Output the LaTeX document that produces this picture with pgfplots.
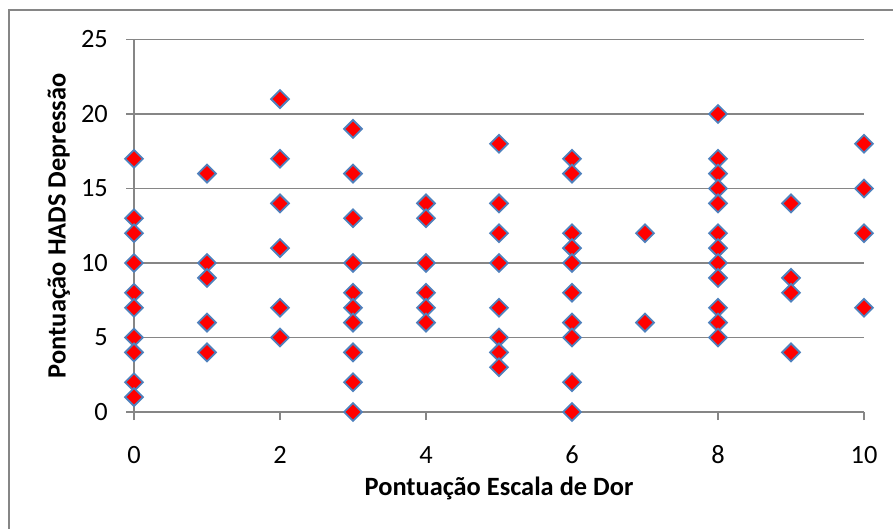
\documentclass[border=0pt]{standalone}
\usepackage{pgfplots}
\pgfplotsset{compat=1.18}
\usepackage{fontspec}
\setmainfont{Carlito}
\definecolor{gridgray}{RGB}{134,134,134}
\definecolor{mkedge}{RGB}{79,129,189}
\begin{document}
\begin{tikzpicture}
\path[use as bounding box] (0,0) rectangle (893bp,529bp);
\draw[gridgray, line width=1.5bp] (9bp,0) -- (9bp,519bp) -- (893bp,519bp);
\begin{axis}[
  at={(134bp,117bp)}, anchor=south west,
  scale only axis, width=730bp, height=372.5bp,
  xmin=0, xmax=10, ymin=0, ymax=25,
  xtick={0,2,4,6,8,10}, ytick={0,5,10,15,20,25},
  axis x line*=bottom, axis y line*=left,
  axis line style={gridgray, line width=1.5bp},
  ymajorgrids, major grid style={gridgray, line width=1.5bp},
  tick align=outside, major tick length=8bp,
  tick style={gridgray, line width=1.5bp},
  /pgf/number format/assume math mode=true,
  ticklabel style={font=\fontsize{26.5}{30}\selectfont, inner sep=0pt},
  xticklabel style={anchor=base, yshift=-43bp},
  yticklabel style={anchor=east, xshift=-18bp},
  xlabel={\textbf{Pontuação Escala de Dor}},
  ylabel={\textbf{Pontuação HADS Depressão}},
  label style={font=\fontsize{26.5}{30}\selectfont, inner sep=0pt},
  xlabel style={at={(axis description cs:0.5,0)}, anchor=base, yshift=-83bp},
  ylabel style={at={(axis description cs:-0.0938,0.5)}, anchor=base},
  clip=false,
]
\addplot[only marks, mark=square*, mark size=6.3bp,
  mark options={fill=red, draw=mkedge, line width=1.8bp, rotate=45}]
coordinates {
(0,17)(0,13)(0,12)(0,10)(0,8)(0,7)(0,5)(0,4)(0,2)(0,1)
(1,16)(1,10)(1,9)(1,6)(1,4)
(2,21)(2,17)(2,14)(2,11)(2,7)(2,5)
(3,19)(3,16)(3,13)(3,10)(3,8)(3,7)(3,6)(3,4)(3,2)(3,0)
(4,14)(4,13)(4,10)(4,8)(4,7)(4,6)
(5,18)(5,14)(5,12)(5,10)(5,7)(5,5)(5,4)(5,3)
(6,17)(6,16)(6,12)(6,11)(6,10)(6,8)(6,6)(6,5)(6,2)(6,0)
(7,12)(7,6)
(8,20)(8,17)(8,16)(8,15)(8,14)(8,12)(8,11)(8,10)(8,9)(8,7)(8,6)(8,5)
(9,14)(9,9)(9,8)(9,4)
(10,18)(10,15)(10,12)(10,7)
};
\end{axis}
\end{tikzpicture}
\end{document}
